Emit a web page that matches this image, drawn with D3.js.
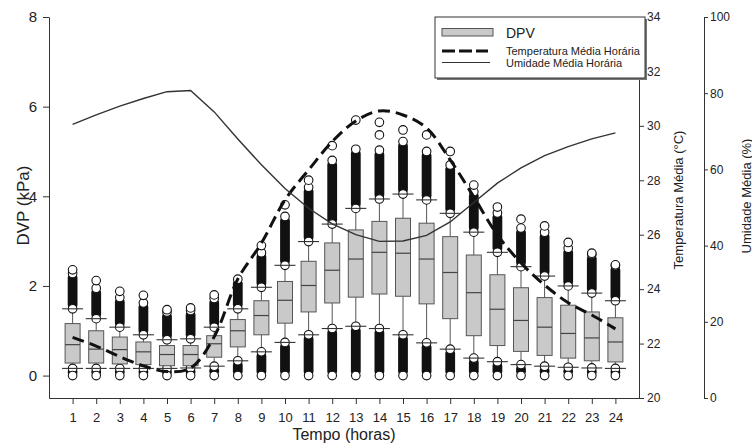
<!DOCTYPE html>
<html><head><meta charset="utf-8">
<script src="https://cdn.jsdelivr.net/npm/d3@7"></script>
<style>body{margin:0;background:#fff}svg{display:block;font-family:"Liberation Sans",Arial,sans-serif}</style>
</head><body>
<svg id="c" width="752" height="443"></svg>
<script>
const hours = [1,2,3,4,5,6,7,8,9,10,11,12,13,14,15,16,17,18,19,20,21,22,23,24];
const q1  = [0.28,0.28,0.26,0.245,0.22,0.22,0.41,0.64,0.91,1.17,1.42,1.62,1.75,1.82,1.77,1.60,1.27,0.89,0.67,0.54,0.45,0.39,0.33,0.305];
const med = [0.69,0.59,0.58,0.53,0.47,0.47,0.71,1.00,1.34,1.68,2.01,2.35,2.60,2.75,2.73,2.60,2.30,1.85,1.48,1.23,1.08,0.94,0.84,0.75];
const q3  = [1.16,1.00,0.86,0.75,0.67,0.67,0.89,1.25,1.67,2.10,2.55,2.96,3.25,3.44,3.51,3.40,3.10,2.69,2.25,1.96,1.74,1.57,1.42,1.29];
const whiskHi = [1.49,1.27,1.08,0.91,0.80,0.82,1.08,1.49,1.97,2.46,2.99,3.38,3.73,3.94,4.05,3.92,3.62,3.20,2.75,2.43,2.22,2.00,1.84,1.67];
const whiskLo = [0.16,0.16,0.16,0.16,0.16,0.17,0.21,0.33,0.53,0.74,0.91,1.05,1.10,1.05,0.91,0.73,0.59,0.39,0.31,0.245,0.21,0.185,0.17,0.16];
const stackHiTop = [2.28,1.95,1.74,1.62,1.42,1.45,1.72,2.15,2.74,3.55,4.20,4.80,5.05,5.03,5.22,5.00,4.70,4.10,3.63,3.29,3.20,2.84,2.70,2.45];
const stackLoBottom = [0,0,0,0,0,0,0,0,0,0,0,0,0,0,0,0,0,0,0,0,0,0,0,0];
const isolatedHi = [[2.36],[2.12],[1.88],[1.79],[1.47],[1.51],[1.80],[],[2.90],[3.81],[4.36],[5.13],[5.70],[5.37,5.65],[5.48],[5.37],[5.00],[4.25],[3.76],[3.49],[3.34],[2.97],[2.73],[2.47]];
const tempMean = [22.23,21.91,21.52,21.18,20.97,21.10,22.25,24.37,25.69,27.28,28.38,29.42,30.18,30.55,30.40,29.92,28.75,27.39,25.99,24.96,24.15,23.50,23.05,22.54];
const humMean = [71.8,74.3,76.6,78.6,80.4,80.7,75.1,68.0,61.2,55.0,49.8,45.7,42.9,41.1,41.2,42.7,46.2,51.3,56.4,60.4,63.6,66.0,68.0,69.6];
const leftTicks = [0,2,4,6,8];
const tempTicks = [20,22,24,26,28,30,32,34];
const humTicks = [0,20,40,60,80,100];

const svg = d3.select("#c");
const L = 49, R = 639, T = 17, B = 398;
const x = d3.scaleLinear().domain([0,25]).range([L,R]);
const y = d3.scaleLinear().domain([-0.5,8]).range([B,T]);
const yT = d3.scaleLinear().domain([20,34]).range([B,T]);
const yH = d3.scaleLinear().domain([0,100]).range([B,T]);

const axisCol = "#333", txtCol = "#222";
function styleAxis(g, fs){
  g.selectAll("path,line").attr("stroke", axisCol).attr("stroke-width",1);
  g.selectAll("text").attr("fill", txtCol).attr("font-size", fs).attr("font-family","Liberation Sans, Arial, sans-serif");
}
// axes
const gL = svg.append("g").attr("transform",`translate(${L},0)`)
  .call(d3.axisLeft(y).tickValues(leftTicks).tickSize(6).tickPadding(6).tickSizeOuter(0));
styleAxis(gL, 15);
const gB = svg.append("g").attr("transform",`translate(0,${B})`)
  .call(d3.axisBottom(x).tickValues(hours).tickSize(6).tickPadding(9).tickSizeOuter(0));
styleAxis(gB, 13);
const gT = svg.append("g").attr("transform",`translate(${R},0)`)
  .call(d3.axisRight(yT).tickValues(tempTicks).tickSize(5).tickPadding(3).tickSizeOuter(0));
styleAxis(gT, 12);
const gH = svg.append("g").attr("transform",`translate(704,0)`)
  .call(d3.axisRight(yH).tickValues(humTicks).tickSize(4).tickPadding(2).tickSizeOuter(0));
styleAxis(gH, 12);

// axis titles
svg.append("text").attr("transform",`translate(23,${(T+B)/2-2}) rotate(-90)`).attr("text-anchor","middle")
  .attr("dominant-baseline","central").attr("font-size",17).attr("fill",txtCol).text("DVP (kPa)");
svg.append("text").attr("x",(L+R)/2).attr("y",439.6).attr("text-anchor","middle")
  .attr("font-size",16).attr("fill",txtCol).text("Tempo (horas)");
svg.append("text").attr("transform",`translate(678,200) rotate(-90)`).attr("text-anchor","middle")
  .attr("dominant-baseline","central").attr("font-size",13).attr("fill",txtCol).text("Temperatura Média (°C)");
svg.append("text").attr("transform",`translate(746,196) rotate(-90)`).attr("text-anchor","middle")
  .attr("dominant-baseline","central").attr("font-size",13).attr("fill",txtCol).text("Umidade Média (%)");

// boxes
const bw = 15, cw = 21, r = 4.3;
const g = svg.append("g");
hours.forEach((h,i)=>{
  const cx = x(h);
  const gg = g.append("g");
  gg.append("line").attr("x1",cx).attr("x2",cx).attr("y1",y(q3[i])).attr("y2",y(whiskHi[i])).attr("stroke","#555");
  gg.append("line").attr("x1",cx).attr("x2",cx).attr("y1",y(q1[i])).attr("y2",y(whiskLo[i])).attr("stroke","#555");
  gg.append("rect").attr("x",cx-r-0.6).attr("width",2*r+1.2)
    .attr("y",y(stackHiTop[i])).attr("height",y(whiskHi[i])-y(stackHiTop[i])).attr("rx",r).attr("fill","#111");
  gg.append("rect").attr("x",cx-r-0.6).attr("width",2*r+1.2)
    .attr("y",y(whiskLo[i])).attr("height",y(stackLoBottom[i])-y(whiskLo[i])).attr("rx",r).attr("fill","#111");
  [stackHiTop[i], whiskHi[i], whiskLo[i], stackLoBottom[i]].concat(isolatedHi[i]).forEach(v=>{
    gg.append("circle").attr("cx",cx).attr("cy",y(v)).attr("r",r).attr("fill","#fff").attr("stroke","#111").attr("stroke-width",1.1);
  });
  [whiskHi[i], whiskLo[i]].forEach(v=>{
    gg.append("line").attr("x1",cx-cw/2).attr("x2",cx+cw/2).attr("y1",y(v)).attr("y2",y(v)).attr("stroke","#333").attr("stroke-width",1.1);
  });
  gg.append("rect").attr("x",cx-bw/2).attr("width",bw).attr("y",y(q3[i])).attr("height",y(q1[i])-y(q3[i]))
    .attr("fill","#c9c9c9").attr("stroke","#555").attr("stroke-width",1);
  gg.append("line").attr("x1",cx-bw/2).attr("x2",cx+bw/2).attr("y1",y(med[i])).attr("y2",y(med[i])).attr("stroke","#444").attr("stroke-width",1.2);
});

// temperature dashed line
svg.append("path").datum(hours.map((h,i)=>[x(h), yT(tempMean[i])]))
  .attr("d", d3.line().curve(d3.curveCatmullRom.alpha(0.5)))
  .attr("fill","none").attr("stroke","#111").attr("stroke-width",3).attr("stroke-dasharray","12,6");
// humidity line
svg.append("path").datum(hours.map((h,i)=>[x(h), yH(humMean[i])]))
  .attr("d", d3.line())
  .attr("fill","none").attr("stroke","#333").attr("stroke-width",1.4);

// legend
const lg = svg.append("g");
lg.append("rect").attr("x",437).attr("y",19).attr("width",210).attr("height",61).attr("fill","#777");
lg.append("rect").attr("x",435).attr("y",17).attr("width",210).attr("height",61).attr("fill","#fff").attr("stroke","#333").attr("stroke-width",1);
lg.append("rect").attr("x",442).attr("y",28.5).attr("width",51).attr("height",7.5).attr("fill","#c9c9c9").attr("stroke","#555");
lg.append("text").attr("x",506).attr("y",38).attr("font-size",14).attr("fill",txtCol).text("DPV");
lg.append("line").attr("x1",442).attr("x2",488).attr("y1",51).attr("y2",51).attr("stroke","#111").attr("stroke-width",3).attr("stroke-dasharray","13,4");
lg.append("text").attr("x",506).attr("y",55).attr("font-size",11).attr("fill",txtCol).text("Temperatura Média Horária");
lg.append("line").attr("x1",442).attr("x2",490).attr("y1",62.5).attr("y2",62.5).attr("stroke","#333").attr("stroke-width",1.2);
lg.append("text").attr("x",506).attr("y",66.5).attr("font-size",11).attr("fill",txtCol).text("Umidade Média Horária");
</script>
</body></html>
